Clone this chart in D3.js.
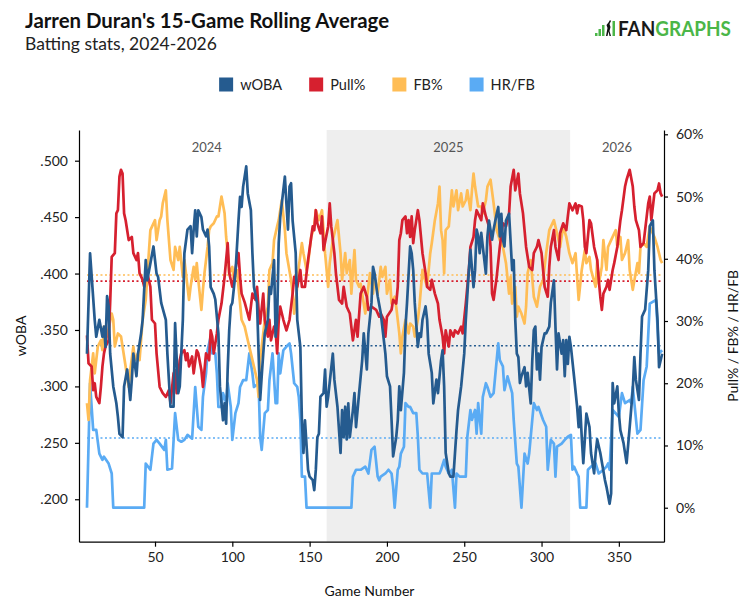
<!DOCTYPE html>
<html>
<head>
<meta charset="utf-8">
<script src="https://cdnjs.cloudflare.com/ajax/libs/d3/7.8.5/d3.min.js"></script>
<style>
    body { margin: 0; background: #fff; }
    text { font-family: Lato, "Open Sans", sans-serif; }
    .axis path, .axis line { stroke: #000; stroke-width: 1.2; }
    .axis text { font-size: 14px; fill: #222; }
</style>
</head>
<body>
<div id="rolling-chart"></div>
<script>

// chart global variables
var margin, width, height, svg;

var seriesNames = ["wOBA", "Pull%", "FB%", "HR/FB"];
var seriesColors = ["#255b8f", "#d6202f", "#ffbd55", "#5aabf4"];

// [game number, 15-game rolling value]
var wobaData = [[6,.329],[8,.418],[11,.359],[12,.344],[14,.359],[16,.344],[17,.353],[18,.335],[19,.380],[20,.371],[21,.329],[23,.300],[25,.285],[26,.273],[27,.258],[29,.255],[30,.300],[32,.315],[34,.288],[35,.306],[36,.329],[38,.309],[39,.329],[41,.347],[42,.359],[44,.412],[45,.394],[49,.424],[51,.400],[52,.397],[54,.374],[57,.359],[58,.329],[60,.282],[62,.282],[63,.356],[65,.294],
    [66,.300],[68,.359],[69,.418],[71,.439],[73,.442],[74,.418],[75,.439],[76,.456],[77,.433],[78,.456],[80,.450],[81,.439],[83,.433],[84,.439],[85,.424],[86,.388],[88,.382],[89,.377],[91,.347],[92,.300],[94,.270],[95,.285],[96,.267],[97,.315],[98,.350],[99,.371],[100,.374],[102,.400],[104,.447],[105,.468],[106,.459],[107,.477],[109,.495],[110,.471],[112,.456],[113,.418],[114,.388],[116,.374],[117,.329],[118,.288],[119,.309],[120,.329],[121,.347],[123,.359],[124,.388],[125,.382],[127,.412],[128,.344],[129,.359],
    [130,.427],[131,.450],[134,.486],[135,.462],[136,.439],[137,.477],[138,.480],[139,.447],[141,.418],[142,.359],[143,.347],[144,.335],[145,.270],[146,.241],[147,.270],[149,.226],[150,.220],[152,.217],[153,.208],[154,.226],[155,.255],[156,.258],[157,.291],[159,.294],[160,.315],[161,.282],[162,.291],[165,.329],[166,.306],[168,.282],[170,.241],[171,.279],[172,.255],[173,.282],[174,.253],[175,.285],[176,.255],[178,.279],[179,.294],[180,.264],[182,.294],[184,.323],[185,.347],[187,.315],[188,.347],[190,.374],[191,.406],[192,.400],[194,.380],
    [196,.365],[199,.329],[200,.309],[202,.300],[203,.270],[204,.238],[206,.255],[207,.270],[208,.300],[209,.279],[211,.312],[212,.353],[213,.374],[215,.424],[216,.418],[217,.403],[218,.374],[220,.335],[221,.347],[222,.344],[223,.359],[225,.371],[226,.359],[227,.329],[229,.312],[230,.285],[232,.306],[233,.294],[235,.323],[236,.332],[237,.300],[238,.241],[240,.223],[241,.220],[243,.220],[245,.261],[246,.279],[248,.300],[250,.329],[251,.359],[253,.403],[254,.421],[256,.388],[257,.403],[258,.439],
    [259,.433],[260,.418],[261,.436],[263,.412],[264,.400],[265,.433],[266,.447],[268,.430],[269,.439],[271,.453],[272,.459],[273,.433],[274,.453],[275,.430],[276,.424],[277,.447],[279,.453],[281,.403],[282,.412],[283,.359],[284,.329],[285,.326],[286,.303],[287,.309],[289,.317],[290,.300],[291,.312],[293,.285],[294,.323],[295,.350],[296,.353],[297,.315],[298,.329],[299,.306],[300,.335],[302,.347],[303,.347],[305,.353],[306,.374],[308,.394],[309,.353],[310,.315],[311,.347],[313,.329],[314,.341],[315,.309],[316,.341],[317,.320],[318,.344],
    [319,.335],[321,.309],[323,.282],[324,.264],[325,.282],[326,.255],[327,.232],[328,.253],[329,.276],[331,.264],[332,.241],[334,.223],[335,.241],[336,.253],[338,.241],[341,.217],[342,.211],[344,.196],[345,.205],[346,.303],[347,.285],[349,.300],[350,.276],[351,.261],[353,.250],[355,.232],[357,.264],[359,.297],[360,.326],[361,.306],[363,.288],[364,.329],[365,.362],[367,.368],[369,.403],[370,.442],[372,.447],[373,.403],[375,.359],[376,.317],[378,.329]];

var pullData = [[6,27.7],[7,23.2],[9,22.7],[10,18.9],[11,20.0],[12,17.8],[14,16.8],[15,19.4],[16,22.7],[17,24.8],[18,25.9],[20,26.9],[21,33.0],[22,40.3],[24,40.9],[25,47.3],[26,47.8],[27,53.2],[28,54.3],[29,53.7],[30,47.3],[31,46.2],[33,43.0],[35,43.5],[36,40.9],[38,39.8],[39,40.9],[40,37.7],[42,36.6],[43,35.5],[44,37.1],[45,37.7],[47,35.5],[48,30.2],[50,29.6],[51,24.8],[53,19.4],[55,18.4],[57,17.8],[59,18.9],[60,16.8],[62,21.6],[63,22.1],[64,18.4],[66,23.7],
    [67,24.8],[69,25.3],[70,23.7],[71,24.8],[72,22.7],[74,24.3],[75,21.6],[77,25.3],[78,24.8],[80,22.1],[81,19.4],[83,24.8],[85,23.7],[86,28.5],[87,27.5],[88,24.8],[90,28.0],[91,30.2],[93,32.8],[95,37.1],[97,42.5],[98,37.7],[100,35.5],[101,36.6],[103,39.8],[104,40.9],[105,37.1],[106,34.4],[108,33.0],[111,30.2],[112,32.3],[113,34.4],[115,33.4],[116,35.5],[117,31.8],[118,29.6],[120,34.4],[121,30.2],[123,27.5],[124,30.2],[125,26.9],[127,29.1],[128,28.5],[129,24.8],
    [130,30.0],[131,32.3],[133,30.2],[135,28.5],[137,30.2],[139,34.4],[140,37.1],[142,35.5],[144,38.2],[145,35.5],[147,35.5],[149,39.8],[152,45.2],[153,44.6],[154,47.8],[155,45.7],[157,44.1],[158,46.8],[159,41.4],[162,45.2],[163,48.9],[164,45.2],[166,40.9],[167,37.7],[169,33.4],[171,32.8],[172,35.5],[174,32.3],[176,31.2],[178,26.9],[180,30.2],[181,27.5],[183,34.4],[185,35.5],[187,33.9],[188,31.8],[190,32.3],[193,31.8],[195,30.7],
    [196,31.2],[198,30.2],[199,27.5],[200,30.7],[203,31.8],[204,33.4],[206,32.8],[207,35.5],[208,43.0],[209,44.1],[210,46.2],[212,46.8],[213,44.1],[214,46.2],[215,43.5],[216,46.8],[217,42.5],[218,44.6],[220,47.8],[221,46.2],[223,40.9],[225,37.7],[226,35.5],[228,35.0],[229,36.6],[231,34.4],[233,32.8],[234,30.2],[236,27.5],[237,24.8],[238,28.5],[240,25.9],[241,28.5],[243,27.5],[244,28.5],[246,28.0],[248,29.1],[249,28.0],[251,32.8],[253,38.2],[254,41.9],[256,43.5],[257,46.2],[258,47.8],
    [261,46.2],[262,48.9],[264,46.8],[266,45.2],[267,41.9],[268,34.4],[269,33.4],[271,37.1],[273,41.9],[275,45.7],[277,45.2],[279,47.3],[280,51.6],[282,54.3],[283,51.0],[285,53.7],[286,50.5],[288,47.3],[290,41.9],[292,38.7],[294,38.2],[295,40.9],[297,41.9],[298,43.0],[300,40.9],[301,38.2],[302,35.5],[304,33.9],[305,38.7],[306,41.9],[308,44.6],[309,41.9],[311,39.8],[312,44.1],[314,45.7],[316,44.6],[317,46.8],
    [318,48.9],[320,47.8],[322,48.9],[323,47.3],[324,48.6],[326,48.4],[327,46.2],[328,41.9],[329,40.9],[331,46.2],[332,45.7],[334,41.9],[336,39.8],[337,36.6],[338,33.9],[339,31.8],[340,34.4],[342,35.5],[343,36.6],[344,35.0],[346,38.2],[347,39.3],[349,41.9],[351,46.2],[352,47.8],[354,51.6],[355,52.7],[357,54.3],[359,51.6],[360,48.4],[361,46.2],[363,44.6],[364,41.9],[366,42.5],[369,48.9],[370,50.0],[371,46.2],[373,50.5],[375,51.0],[376,52.1],[377,50.5],[378,50.0]];

var fbData = [[6,16.8],[7,14.1],[8,20.5],[10,24.8],[11,21.6],[13,25.9],[15,26.9],[16,25.3],[17,29.1],[19,27.5],[22,31.2],[23,30.2],[24,25.9],[26,28.0],[28,27.5],[31,22.7],[33,19.4],[34,22.1],[36,25.9],[37,23.7],[39,24.8],[40,23.7],[42,30.2],[44,33.4],[46,40.9],[47,44.6],[50,46.2],[51,43.0],[53,46.2],[54,46.8],[55,48.9],[57,51.0],[58,46.2],[60,39.8],[62,38.2],[63,41.9],[65,39.8],
    [66,41.9],[68,37.1],[69,39.8],[70,37.7],[72,33.4],[73,35.5],[75,38.7],[76,36.6],[77,39.3],[78,36.6],[80,31.8],[81,35.0],[82,37.7],[84,41.9],[85,44.6],[86,45.2],[88,45.7],[90,46.8],[91,46.8],[93,50.0],[95,47.3],[96,43.5],[97,40.9],[98,37.7],[100,38.7],[101,36.6],[103,38.2],[104,35.5],[106,30.2],[108,29.1],[109,28.0],[110,26.9],[112,24.8],[114,22.7],[116,20.5],[117,17.8],[118,23.7],[120,28.0],[121,30.2],[123,32.3],[124,38.2],[126,39.3],[127,43.0],[129,45.2],
    [130,46.2],[131,47.8],[132,49.4],[134,44.6],[135,40.9],[138,36.6],[139,34.4],[140,31.2],[142,35.5],[143,38.7],[145,42.5],[146,40.9],[148,38.2],[149,39.3],[151,43.5],[153,45.2],[154,47.8],[156,46.2],[158,47.8],[159,44.6],[160,40.9],[162,35.5],[163,39.3],[165,43.0],[168,46.2],[170,40.9],[171,36.6],[173,40.9],[174,37.7],[176,39.8],[177,34.4],[179,41.4],[180,36.6],[182,35.5],[183,36.0],[185,32.8],[186,31.2],[188,35.5],[189,37.7],[191,34.4],[192,37.1],[194,34.4],[196,38.7],
    [197,37.1],[199,38.7],[200,34.4],[202,36.6],[203,32.8],[205,33.9],[206,32.3],[208,28.0],[209,24.8],[210,27.5],[212,30.2],[214,28.0],[215,29.6],[217,29.1],[218,27.5],[220,30.2],[221,32.3],[223,38.2],[224,37.1],[226,35.5],[228,40.9],[229,42.5],[231,46.2],[233,48.9],[234,51.6],[235,44.6],[236,43.0],[237,37.7],[238,44.6],[240,45.2],[242,51.0],[243,48.4],[245,51.0],[246,47.8],[248,50.5],[249,48.4],[251,49.4],[252,51.0],[254,47.8],[255,51.0],[256,53.7],[257,51.6],[259,48.4],
    [261,48.4],[262,47.3],[264,49.4],[265,51.6],[267,52.7],[269,48.9],[271,44.6],[273,43.0],[275,41.9],[277,39.3],[279,34.4],[280,37.1],[281,32.8],[283,35.5],[284,30.7],[285,32.3],[287,31.2],[289,29.6],[290,32.3],[291,37.7],[293,39.8],[295,33.9],[297,32.3],[299,35.5],[301,36.6],[303,40.9],[305,44.6],[308,46.2],[310,44.1],[312,41.9],[314,45.2],[316,43.5],[318,40.9],
    [320,39.3],[322,40.9],[323,37.1],[324,33.4],[326,38.2],[328,41.4],[329,39.3],[331,40.3],[332,38.2],[335,35.5],[336,39.8],[337,36.0],[339,38.7],[340,43.0],[342,38.2],[343,41.9],[345,43.0],[348,44.6],[349,41.9],[351,43.5],[352,39.8],[354,40.9],[356,43.0],[357,38.2],[359,35.0],[362,39.3],[363,37.7],[364,41.9],[366,42.5],[368,41.9],[370,45.2],[371,44.6],[373,43.5],[375,41.9],[377,39.8],[378,39.3]];

var hrfbData = [[6,0],[8,20.0],[10,12.5],[12,12.5],[14,8.7],[16,7.7],[17,8.2],[20,7.1],[22,5.5],[23,0],[43,0],[44,7.1],[47,6.1],[49,10.3],[51,10.9],[53,10.3],[56,9.3],[57,10.9],[58,6.1],[61,6.3],[63,15.2],[65,10.9],
    [67,10.6],[69,10.9],[71,11.7],[74,11.1],[76,19.4],[78,13.0],[80,12.5],[81,17.8],[83,21.6],[84,25.3],[86,27.5],[87,24.8],[89,24.8],[90,21.6],[91,16.2],[93,16.2],[94,18.4],[96,16.8],[97,20.0],[99,16.2],[100,10.9],[102,15.2],[104,16.8],[105,19.4],[107,20.5],[109,20.5],[111,24.8],[113,21.6],[114,19.4],[117,20.0],[118,11.4],[119,9.3],[121,15.2],[123,15.7],[124,20.5],[126,24.8],[128,16.8],[129,16.8],
    [130,24.8],[131,21.6],[133,25.3],[135,25.9],[137,26.4],[138,24.8],[140,20.0],[142,19.4],[143,17.8],[144,14.1],[145,5.0],[147,5.0],[148,0],[177,0],[178,5.0],[180,6.1],[183,6.1],[186,6.6],[188,5.5],[190,9.3],[192,9.8],[194,5.0],[195,4.4],
    [196,5.0],[199,5.5],[201,6.1],[203,5.5],[204,3.4],[205,0],[207,6.1],[208,6.6],[209,8.7],[211,9.8],[212,16.8],[214,16.2],[215,16.2],[217,15.2],[219,15.2],[220,11.4],[221,6.1],[223,5.5],[226,5.5],[228,0],[229,5.5],[231,5.5],[234,5.5],[235,6.1],[237,7.7],[238,6.6],[240,5.5],[242,6.1],[244,0],[245,5.5],[247,5.0],[251,5.0],[252,11.4],[254,15.7],[255,14.1],[257,15.7],[258,11.9],
    [259,16.8],[261,11.9],[262,17.8],[264,20.0],[265,19.4],[267,17.8],[269,18.4],[270,21.1],[272,26.4],[273,23.7],[275,22.7],[276,18.9],[278,21.1],[281,18.4],[282,14.1],[284,7.1],[285,6.6],[287,0],[289,8.7],[291,7.1],[292,8.7],[294,14.1],[295,16.8],[297,15.7],[298,16.2],[301,14.1],[303,13.0],[304,6.1],[306,10.9],[308,10.3],[309,5.0],[310,9.8],[313,10.3],[315,10.9],[317,11.4],[319,11.7],
    [320,6.1],[321,6.6],[323,5.5],[324,5.0],[325,0],[329,0],[330,6.1],[332,6.6],[335,7.1],[337,5.5],[340,6.1],[342,6.6],[343,7.1],[344,6.1],[346,15.7],[350,14.6],[352,18.4],[354,16.8],[357,17.3],[358,16.8],[359,19.4],[362,11.9],[364,12.5],[366,20.5],[368,22.7],[370,32.8],[374,33.4],[376,24.8],[378,25.3]];

// season averages (dotted lines)
var averages = [.336, 36.4, 37.4, 11.2];

var seasons = ["2024", "2025", "2026"];
var seasonStarts = [6, 161, 318.5];
var seasonEnds = [161, 318.5, 379.2];

var xTicks = [50, 100, 150, 200, 250, 300, 350];
var wobaTicks = [.200, .250, .300, .350, .400, .450, .500];
var pctTicks = [0, 10, 20, 30, 40, 50, 60];

initialize();

function initialize() {

    margin = {top: 130, right: 88, bottom: 71.3, left: 79};
    width = 752 - margin.left - margin.right;
    height = 613 - margin.top - margin.bottom;

    var root = d3.select("#rolling-chart").append("svg")
        .attr("width", 752)
        .attr("height", 613);

    svg = root.append("g")
        .attr("transform", "translate(" + margin.left + "," + margin.top + ")");

    var x = d3.scaleLinear().domain([0.84, 379.2]).range([0, width]);
    var yLeft = d3.scaleLinear().domain([0.1624, 0.5272]).range([height, 0]);
    var yRight = d3.scaleLinear().domain([-5.46, 60.69]).range([height, 0]);

    // shaded 2025 season
    svg.append("rect")
        .attr("x", x(seasonStarts[1]))
        .attr("y", 0)
        .attr("width", x(seasonEnds[1]) - x(seasonStarts[1]))
        .attr("height", height)
        .attr("fill", "#eeeeee");

    svg.selectAll(".season-label")
        .data(seasons)
        .enter()
        .append("text")
        .attr("class", "season-label")
        .attr("x", function (d, i) { return x((seasonStarts[i] + seasonEnds[i]) / 2); })
        .attr("y", 22)
        .attr("text-anchor", "middle")
        .attr("font-size", 13)
        .attr("fill", "#555")
        .text(function (d) { return d; });

    // axes
    var fmtWoba = function (d) { return d3.format(".3f")(d).replace(/^0/, ""); };

    svg.append("g")
        .attr("class", "axis")
        .call(d3.axisLeft(yLeft).tickValues(wobaTicks).tickFormat(fmtWoba).tickSize(4).tickSizeOuter(0).tickPadding(7));

    svg.append("g")
        .attr("class", "axis")
        .attr("transform", "translate(" + width + ",0)")
        .call(d3.axisRight(yRight).tickValues(pctTicks).tickFormat(function (d) { return d + "%"; }).tickSize(4).tickSizeOuter(0).tickPadding(8));

    svg.append("g")
        .attr("class", "axis")
        .attr("transform", "translate(0," + height + ")")
        .call(d3.axisBottom(x).tickValues(xTicks).tickSize(5).tickSizeOuter(0).tickPadding(5));

    svg.append("text")
        .attr("transform", "translate(" + (21 - margin.left) + "," + (height / 2) + ") rotate(-90)")
        .attr("text-anchor", "middle")
        .attr("dy", "0.35em")
        .attr("font-size", 14)
        .attr("fill", "#111")
        .text("wOBA");

    svg.append("text")
        .attr("transform", "translate(" + (width + 69) + "," + (height / 2) + ") rotate(-90)")
        .attr("text-anchor", "middle")
        .attr("dy", "0.35em")
        .attr("font-size", 14)
        .attr("fill", "#111")
        .text("Pull% / FB% / HR/FB");

    svg.append("text")
        .attr("x", width / 2 - 2)
        .attr("y", height + 54)
        .attr("text-anchor", "middle")
        .attr("font-size", 14)
        .attr("fill", "#111")
        .text("Game Number");

    // dotted averages
    var firstGame = wobaData[0][0], lastGame = wobaData[wobaData.length - 1][0];
    var avgScales = [yLeft, yRight, yRight, yRight];
    svg.selectAll(".avg-line")
        .data(averages)
        .enter()
        .append("line")
        .attr("class", "avg-line")
        .attr("x1", x(firstGame))
        .attr("x2", x(lastGame))
        .attr("y1", function (d, i) { return avgScales[i](d); })
        .attr("y2", function (d, i) { return avgScales[i](d); })
        .attr("stroke", function (d, i) { return seriesColors[i]; })
        .attr("stroke-width", 1.6)
        .attr("stroke-dasharray", "2,2.5");

    // series lines
    var allSeries = [wobaData, pullData, fbData, hrfbData];
    var order = [3, 2, 1, 0];
    order.forEach(function (i) {
        var line = d3.line()
            .x(function (d) { return x(d[0]); })
            .y(function (d) { return avgScales[i](d[1]); });
        svg.append("path")
            .datum(allSeries[i])
            .attr("d", line)
            .attr("fill", "none")
            .attr("stroke", seriesColors[i])
            .attr("stroke-width", 2.7)
            .attr("stroke-linejoin", "round");
    });

    drawHeader(root);
}

function drawHeader(root) {

    root.append("text")
        .attr("x", 25)
        .attr("y", 28)
        .attr("font-size", 20.4)
        .attr("font-weight", 700)
        .attr("fill", "#111")
        .text("Jarren Duran's 15-Game Rolling Average");

    root.append("text")
        .attr("x", 25)
        .attr("y", 50)
        .attr("font-size", 17.5)
        .attr("fill", "#222")
        .text("Batting stats, 2024-2026");

    // legend, centred on the page
    var legend = root.append("g");
    var cursor = 0;
    seriesNames.forEach(function (name, i) {
        var item = legend.append("g").attr("transform", "translate(" + cursor + ",0)");
        item.append("rect")
            .attr("x", 0).attr("y", 77.5)
            .attr("width", 14).attr("height", 14)
            .attr("fill", seriesColors[i]);
        var label = item.append("text")
            .attr("x", 21).attr("y", 89.5)
            .attr("font-size", 14.5)
            .attr("fill", "#222")
            .text(name);
        cursor += 21 + label.node().getComputedTextLength() + 27;
    });
    var legendWidth = cursor - 27;
    legend.attr("transform", "translate(" + (377 - legendWidth / 2) + ",0)");

    // FanGraphs mark
    var logo = root.append("g");
    var green = "#4bb648";
    logo.append("rect").attr("x", 595).attr("y", 33).attr("width", 2.5).attr("height", 3).attr("fill", green);
    logo.append("rect").attr("x", 598.5).attr("y", 29).attr("width", 2.5).attr("height", 7).attr("fill", green);
    logo.append("rect").attr("x", 602).attr("y", 25).attr("width", 2.5).attr("height", 11).attr("fill", green);
    logo.append("path")
        .attr("d", "M606,36 L607.5,28 L606.5,25 L608.5,22.5 L610,20 L611,21 L609.5,24 L610.5,27 L609.5,31 L611,36 L609.5,36 L608.5,31.5 L607.5,36 Z")
        .attr("fill", "#111");
    logo.append("rect").attr("x", 612.5).attr("y", 21).attr("width", 2.5).attr("height", 15).attr("fill", green);
    var word = logo.append("text")
        .attr("x", 618)
        .attr("y", 36)
        .attr("font-size", 20)
        .attr("font-weight", 700)
        .attr("textLength", 113)
        .attr("lengthAdjust", "spacingAndGlyphs");
    word.append("tspan").attr("fill", "#1a1a1a").text("FAN");
    word.append("tspan").attr("fill", green).text("GRAPHS");
}

</script>
</body>
</html>
